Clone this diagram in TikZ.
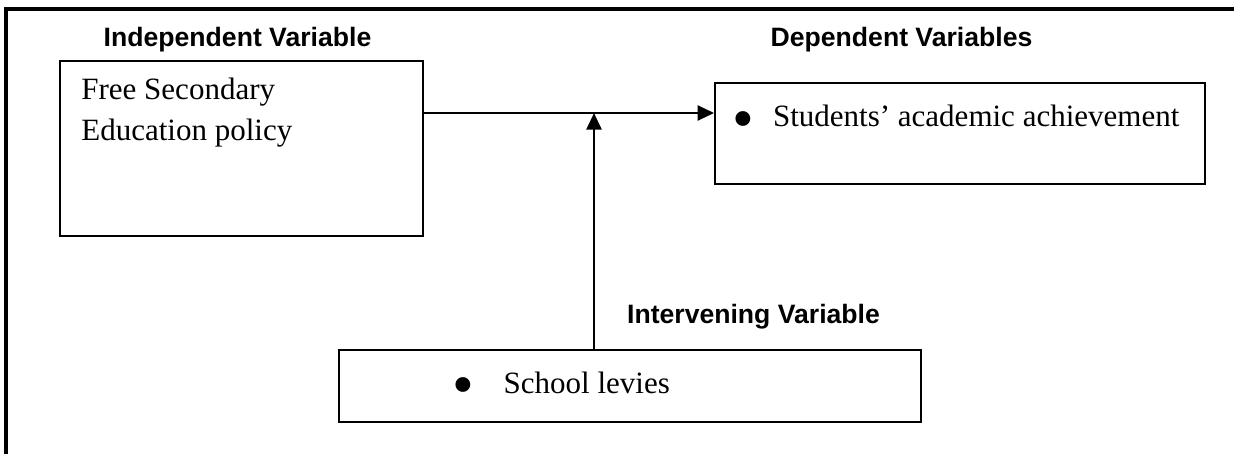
\documentclass[tikz,border=0pt]{standalone}
\usepackage{fontspec}
\setmainfont{Liberation Serif}
\setsansfont{Liberation Sans}
\usetikzlibrary{arrows.meta, positioning}

\begin{document}
\begin{tikzpicture}[x=0.5pt, y=-0.5pt,
    box/.style = {draw, rectangle, line width=0.9pt, inner sep=0pt},
    head/.style = {font=\sffamily\bfseries\fontsize{13.3}{15}\selectfont, inner sep=0pt, anchor=base},
    body/.style = {font=\fontsize{15.5}{20.5}\selectfont, inner sep=0pt, anchor=base west},
    link/.style = {line width=1.3pt, -{Triangle[length=8.3pt,width=7.5pt]}}]
  \useasboundingbox (0,0) rectangle (1234,454);
  % frame, only top and left edges show
  \draw[line width=1.9pt] (6,454) -- (6,9) -- (1234,9);

  \node[head] (indeplabel)  at (237.5,47) {Independent Variable};
  \node[head] (deplabel)    at (901.5,47) {Dependent Variables};
  \node[head] (intervlabel) at (753.5,323) {Intervening Variable};

  \node[box, minimum width=181.5pt, minimum height=87.5pt] (indep)  at (241.5,148.5) {};
  \node[box, minimum width=245pt,   minimum height=50.5pt] (dep)    at (960,133.5)   {};
  \node[box, minimum width=291pt,   minimum height=36pt]   (interv) at (630,386)     {};

  \node[body] (free)    at (81,100)  {Free Secondary};
  \node[body] (policy)  at (81,141)  {Education policy};
  \node[body] (achieve) at (743,127) {\makebox[0pt]{\raisebox{-6.25pt}{\fontsize{31}{31}\selectfont\textbullet}}\hspace{14.85pt}Students’ academic achievement};
  \node[body] (levies)  at (462.5,393) {\makebox[0pt]{\raisebox{-6.25pt}{\fontsize{31}{31}\selectfont\textbullet}}\hspace{20.4pt}School levies};

  \coordinate (join) at (594,113);
  \draw[link] (indep.east |- join) -- (dep.west |- join);
  \draw[link] (interv.north -| join) -- (join);
\end{tikzpicture}
\end{document}
